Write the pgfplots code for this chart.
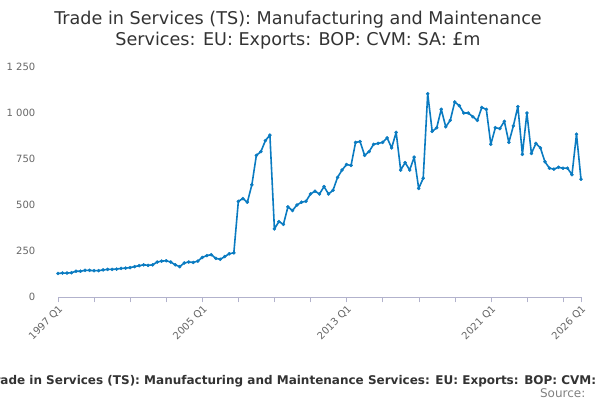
\documentclass[border=0pt]{standalone}
\usepackage{pgfplots}
\pgfplotsset{compat=1.18}
\usepackage{fontspec}
\setmainfont{DejaVu Sans}
\definecolor{ln}{HTML}{0A7BC1}
\definecolor{tx}{HTML}{333333}
\begin{document}
\begin{tikzpicture}[x=0.75pt,y=0.75pt]
\clip (0,0) rectangle (600,400);
\useasboundingbox (0,0) rectangle (600,400);
\node[text=tx,align=center,font=\fontsize{13.2pt}{16pt}\selectfont] at (298,370) {Trade in Services (TS): Manufacturing and Maintenance\\Services: EU: Exports: BOP: CVM: SA: £m};
\node[text=tx,font=\fontsize{9pt}{10pt}\selectfont\bfseries] at (318,19) {Trade in Services (TS): Manufacturing and Maintenance Services: EU: Exports: BOP: CVM: SA: £m};
\node[text=gray,anchor=east,font=\fontsize{9pt}{10pt}\selectfont] at (590,7) {Source:};
\begin{axis}[at={(58pt*0.75,103pt*0.75)},anchor=origin,scale only axis,
 width=392.25pt,height=172.5pt,
 xmin=0,xmax=116,ymin=0,ymax=1250,
 axis x line*=bottom, axis y line=none,
 ytick={0,250,500,750,1000,1250},
 yticklabels={},
 ymajorgrids, grid style={gray!25},
 xtick={0,32,64,96,116},
 minor xtick={8,16,24,40,48,56,72,80,88,104,112},
 xticklabels={1997 Q1,2005 Q1,2013 Q1,2021 Q1,2026 Q1},
 x axis line style={draw=blue!20!gray!50}, xtick style={draw=blue!20!gray!50},
 minor tick style={draw=blue!20!gray!50},
 tick align=outside, major tick length=4pt, minor tick length=4pt,
 xticklabel style={rotate=45,anchor=north east,font=\fontsize{7.5pt}{8pt}\selectfont,text=gray!80!black,inner sep=1pt},
 clip=false]
\pgfplotsextra{\foreach \v/\l in {0/0,250/250,500/500,750/750,1000/1 000,1250/1 250}{\node[anchor=east,font=\fontsize{7.5pt}{8pt}\selectfont,text=gray!80!black] at (axis cs:-4,\v) {\l};}}
\addplot[ln,line width=1.2pt,line join=round,mark=*,mark size=1.2pt,mark options={line width=0.3pt}] table[x expr=\coordindex,y index=0] {
y
128
130
130
132
140
140
145
145
143
143
147
150
150
152
155
157
160
165
170
175
172
175
190
195
197
190
175
165
185
190
188
195
215
225
230
210
205
220
235
240
520
535
515
610
770
790
850
880
370
410
395
490
470
500
515
520
560
575
560
600
560
580
650
690
720
715
840
845
770
790
830
835
840
865
810
895
690
730
690
760
590
645
1105
900
920
1020
925
960
1060
1040
1000
1000
980
960
1030
1020
830
920
915
955
840
930
1035
775
1000
780
835
810
735
700
695
705
700
700
665
885
640
};
\end{axis}
\end{tikzpicture}
\end{document}
